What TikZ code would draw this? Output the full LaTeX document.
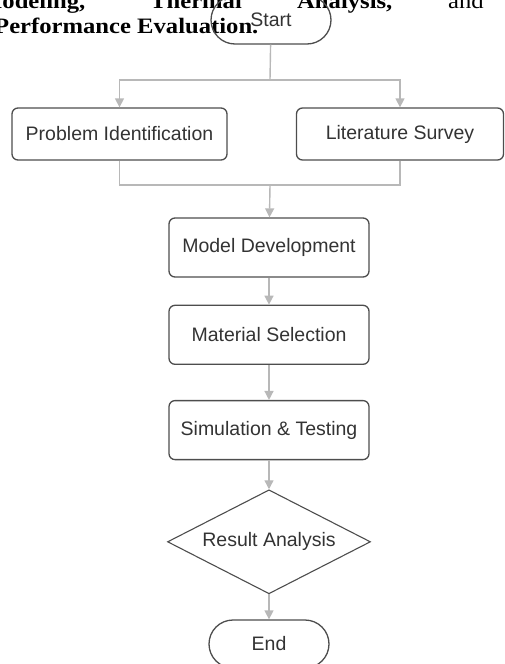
\documentclass[tikz,border=0pt]{standalone}
\usepackage{fontspec}
\setmainfont{Liberation Sans}
\newfontfamily\titlefont[FakeStretch=1.12]{Liberation Serif}
\usetikzlibrary{shapes.geometric, arrows.meta, positioning}

\definecolor{edgegray}{HTML}{4D4D4D}
\definecolor{linegray}{HTML}{B8B8B8}
\definecolor{textgray}{HTML}{333333}

\begin{document}
\begin{tikzpicture}[
        x=1pt, y=1pt,
        box/.style={rectangle, draw=edgegray, line width=1.3pt, rounded corners=6pt, text centered, minimum width=200pt, minimum height=59pt, text=textgray, font=\fontsize{19.5}{23}\selectfont},
        term/.style={box, rounded corners=24pt, minimum width=120pt, minimum height=48pt},
        decision/.style={diamond, draw=edgegray, line width=1.1pt, aspect=2, inner sep=0pt, minimum width=203pt, minimum height=104pt, text=textgray, font=\fontsize{19.5}{23}\selectfont},
        title/.style={anchor=base west, inner sep=0pt, font=\titlefont\bfseries\fontsize{22}{26}\selectfont},
        link/.style={draw=linegray, line width=1.4pt},
        arrow/.style={link, -{Triangle[length=9pt, width=9pt]}}
        ]
        \useasboundingbox (0,0) rectangle (504,-664);

        % text of the page above the chart
        \node[title] (wordA) at (-21,-8) {Modeling,};
        \node[title] (wordB) at (150,-8) {Thermal};
        \node[title] (wordC) at (297,-8) {Analysis,};
        \node[title, font=\titlefont\fontsize{22}{26}\selectfont] (wordD) at (448,-8) {and};
        \node[title] (wordE) at (-6,-33) {Performance Evaluation.};

        \node[term] (start) at (271,-20) {Start};
        \node[box, minimum width=215pt, minimum height=52pt] (problem) at (119.5,-134) {Problem Identification};
        \node[box, minimum width=207pt, minimum height=52pt] (survey) at (400,-134) {Literature Survey};
        \node[box] (model) at (269,-247.5) {Model Development};
        \node[box, below=27pt of model] (material) {Material Selection};
        \node[box, below=35pt of material] (simulation) {Simulation \& Testing};
        \node[decision, below=29pt of simulation] (result) {Result Analysis};
        \node[term, below=25pt of result] (stop) {End};

        \coordinate (split) at (270,-80);
        \coordinate (merge) at (270,-185);

        \draw[link] (start) -- (split);
        \draw[arrow] (split) -| (problem);
        \draw[arrow] (split) -| (survey);
        \draw[link] (problem) |- (merge);
        \draw[link] (survey) |- (merge);
        \draw[arrow] (merge) -- (model);
        \draw[arrow] (model) -- (material);
        \draw[arrow] (material) -- (simulation);
        \draw[arrow] (simulation) -- (result);
        \draw[arrow] (result) -- (stop);
    \end{tikzpicture}
\end{document}
